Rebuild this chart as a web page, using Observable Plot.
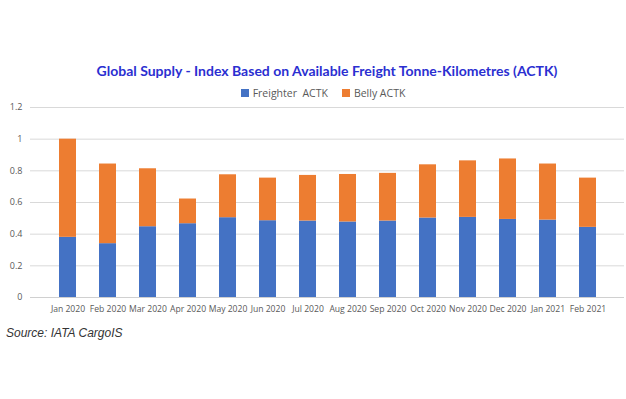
<!DOCTYPE html>
<html>
<head>
<meta charset="utf-8">
<script src="https://cdn.jsdelivr.net/npm/d3@7"></script>
<script src="https://cdn.jsdelivr.net/npm/@observablehq/plot@0.6"></script>
<style>
  html, body { margin: 0; padding: 0; background: #fff; width: 626px; height: 399px; overflow: hidden; position: relative; }
  #title { position: absolute; top: 62px; left: 0; width: 654px; text-align: center; font-family: Lato, sans-serif; font-weight: 700; font-size: 14px; color: #2b2fd1; white-space: nowrap; }
  #legend { position: absolute; top: 86px; left: 0; width: 646px; text-align: center; font-family: "Open Sans", sans-serif; font-size: 10.5px; color: #595959; }
  #legend span.sw { display: inline-block; width: 8px; height: 8px; margin-right: 4px; vertical-align: 0px; }
  #legend span.item { margin: 0 7px; }
  #chart { position: absolute; top: 100px; left: 0; }
  #source { position: absolute; top: 326px; left: 6px; font-family: "Liberation Sans", Arial, sans-serif; font-style: italic; font-size: 12px; color: #333; }
</style>
</head>
<body>
<div id="title">Global Supply - Index Based on Available Freight Tonne-Kilometres (ACTK)</div>
<div id="legend"></div>
<div id="chart"></div>
<div id="source">Source: IATA CargoIS</div>
<script>
const months = ["Jan 2020","Feb 2020","Mar 2020","Apr 2020","May 2020","Jun 2020","Jul 2020","Aug 2020","Sep 2020","Oct 2020","Nov 2020","Dec 2020","Jan 2021","Feb 2021"];
const freighter = [0.38, 0.34, 0.447, 0.466, 0.504, 0.485, 0.483, 0.477, 0.483, 0.502, 0.506, 0.493, 0.489, 0.443];
const belly     = [0.62, 0.503, 0.366, 0.156, 0.271, 0.269, 0.288, 0.300, 0.301, 0.336, 0.357, 0.382, 0.354, 0.311];
const seriesNames = ["Freighter  ACTK", "Belly ACTK"];
const seriesColors = ["#4472c4", "#ed7d31"];
const yTicks = [0, 0.2, 0.4, 0.6, 0.8, 1, 1.2];
const yTickLabels = ["0", "0.2", "0.4", "0.6", "0.8", "1", "1.2"];

const data = [];
months.forEach((m, i) => {
  data.push({month: m, series: seriesNames[0], value: freighter[i]});
  data.push({month: m, series: seriesNames[1], value: belly[i]});
});

const legend = document.getElementById("legend");
legend.innerHTML = seriesNames.map((s, i) =>
  `<span class="item"><span class="sw" style="background:${seriesColors[i]}"></span>${s.replace(/ /g, "&nbsp;")}</span>`).join("");

const chart = Plot.plot({
  width: 626,
  height: 222,
  marginTop: 7,
  marginBottom: 25,
  marginLeft: 30,
  marginRight: 2,
  style: { fontFamily: "'Open Sans', sans-serif", fontSize: "9px", color: "#595959", background: "transparent" },
  x: { domain: months, padding: 0.575, label: null, tickSize: 0, tickPadding: 8 },
  y: { domain: [0, 1.2], ticks: yTicks, tickFormat: (d) => yTickLabels[yTicks.indexOf(d)], label: null, tickSize: 0, tickPadding: 8 },
  color: { domain: seriesNames, range: seriesColors },
  marks: [
    Plot.gridY(yTicks, { stroke: "#d9d9d9", strokeOpacity: 1 }),
    Plot.barY(data, Plot.stackY({ x: "month", y: "value", fill: "series", order: seriesNames })),
    Plot.ruleY([0], { stroke: "#d0d0d0" }),
    Plot.axisX({ tickSize: 0, tickPadding: 8, fontSize: 8.6, fill: "#595959" })
  ]
});
document.getElementById("chart").appendChild(chart);
</script>
</body>
</html>
